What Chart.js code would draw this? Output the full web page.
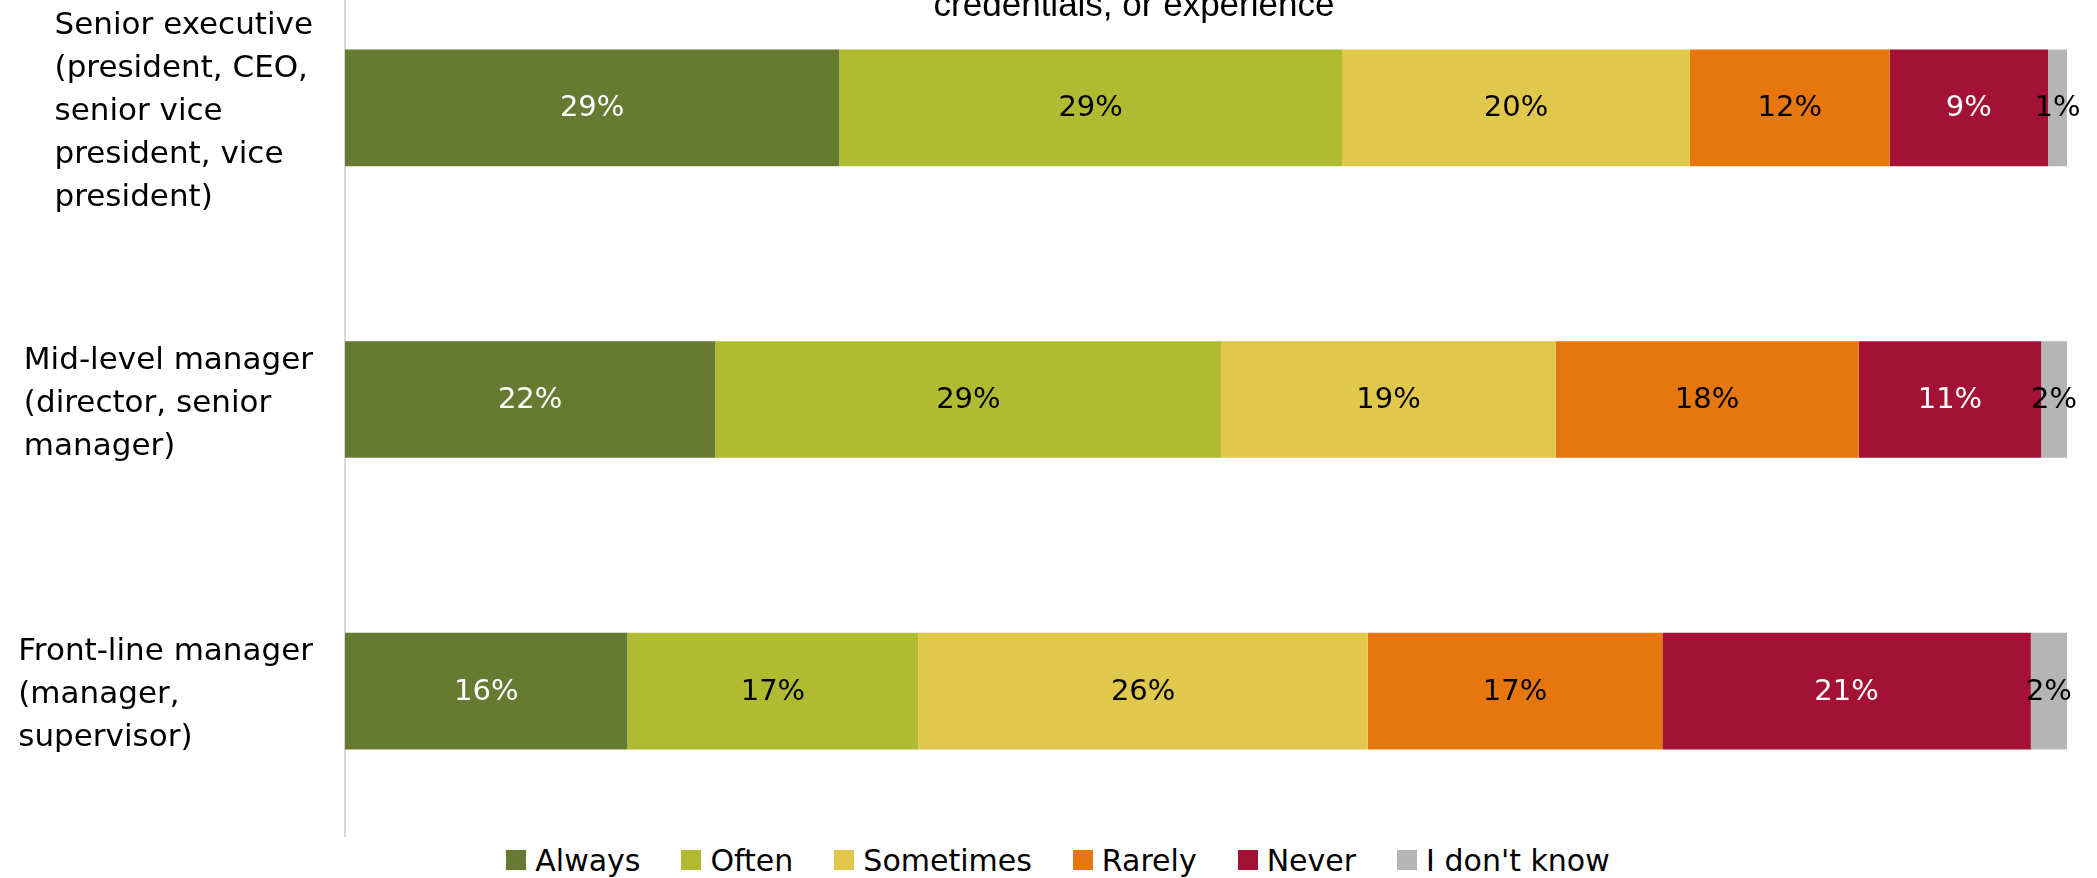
<!DOCTYPE html>
<html>
<head>
<meta charset="utf-8">
<script src="https://cdn.jsdelivr.net/npm/chart.js@4.4.1/dist/chart.umd.min.js"></script>
<style>
    html, body { margin: 0; padding: 0; background: #fff; overflow: hidden; }
    body { width: 2097px; height: 878px; position: relative; }
    #chart { position: absolute; left: 0; top: -38px; }
    #legend {
        position: absolute; left: 0; top: 840px; width: 2116px; height: 40px;
        display: flex; justify-content: center; align-items: center;
        font-family: "DejaVu Sans", sans-serif; font-size: 30px; color: #000;
    }
    .item { display: flex; align-items: center; margin-right: 41px; }
    .item:last-child { margin-right: 0; }
    .swatch { width: 20px; height: 20px; margin-right: 9px; }
</style>
</head>
<body>
<canvas id="chart" width="2097" height="875"></canvas>
<div id="legend"></div>
<script>
const categories = [
    ['Senior executive', '(president, CEO,', 'senior vice', 'president, vice', 'president)'],
    ['Mid-level manager', '(director, senior', 'manager)'],
    ['Front-line manager', '(manager,', 'supervisor)']
];
const seriesNames = ['Always', 'Often', 'Sometimes', 'Rarely', 'Never', "I don't know"];
const seriesColors = ['#667A31', '#B0BB32', '#DFC84B', '#E6760E', '#A31134', '#B5B5B5'];
const labelColors = ['#fff', '#000', '#000', '#000', '#fff', '#000'];

// one array per answer, in category order (senior, mid-level, front-line)
const always = [28.7, 21.5, 16.4];
const often = [29.2, 29.4, 16.9];
const sometimes = [20.2, 19.4, 26.1];
const rarely = [11.6, 17.6, 17.1];
const never = [9.2, 10.6, 21.4];
const dontKnow = [1.1, 1.5, 2.1];

const titleText = 'credentials, or experience';

const seriesValues = [always, often, sometimes, rarely, never, dontKnow];

// category labels are left aligned inside a block that ends near the axis
const categoryLabels = {
    id: 'categoryLabels',
    afterDraw(chart) {
        const ctx = chart.ctx;
        const yScale = chart.scales.y;
        ctx.save();
        ctx.font = '31px "DejaVu Sans", sans-serif';
        ctx.fillStyle = '#000';
        ctx.textAlign = 'left';
        ctx.textBaseline = 'middle';
        categories.forEach((lines, i) => {
            const yc = yScale.getPixelForValue(i);
            const maxW = Math.max(...lines.map(l => ctx.measureText(l).width));
            const x = 313 - maxW;
            lines.forEach((line, j) => {
                ctx.fillText(line, x, yc + (j - (lines.length - 1) / 2) * 43 + 4);
            });
        });
        // title, cut off at the top like the source
        ctx.font = '35px "Liberation Sans", Arial, sans-serif';
        ctx.textAlign = 'center';
        ctx.textBaseline = 'alphabetic';
        ctx.fillText(titleText, 1134, 54);
        ctx.restore();
    }
};

const valueLabels = {
    id: 'valueLabels',
    afterDatasetsDraw(chart) {
        const ctx = chart.ctx;
        ctx.save();
        ctx.font = '29px "DejaVu Sans", sans-serif';
        ctx.textAlign = 'center';
        ctx.textBaseline = 'middle';
        chart.data.datasets.forEach((ds, i) => {
            const meta = chart.getDatasetMeta(i);
            meta.data.forEach((bar, j) => {
                ctx.fillStyle = labelColors[i];
                ctx.fillText(Math.round(ds.data[j]) + '%', (bar.x + bar.base) / 2, bar.y + 1);
            });
        });
        ctx.restore();
    }
};

const ctx = document.getElementById('chart').getContext('2d');
const chart = new Chart(ctx, {
    type: 'bar',
    data: {
        labels: categories,
        datasets: seriesNames.map((name, i) => ({
            label: name,
            data: seriesValues[i],
            backgroundColor: seriesColors[i],
            borderWidth: 0,
            barPercentage: 0.4,
            categoryPercentage: 1
        }))
    },
    options: {
        indexAxis: 'y',
        responsive: false,
        animation: false,
        devicePixelRatio: 1,
        layout: { padding: { left: 0, right: 30, top: 0, bottom: 0 } },
        plugins: {
            legend: { display: false },
            title: { display: false },
            tooltip: { enabled: false }
        },
        scales: {
            x: {
                stacked: true,
                min: 0,
                max: 100,
                display: false
            },
            y: {
                stacked: true,
                grid: { display: false },
                border: { display: true, color: '#D9D9D9', width: 2 },
                ticks: { display: false },
                afterFit: (scale) => { scale.width = 345; }
            }
        }
    },
    plugins: [categoryLabels, valueLabels]
});

// legend built from the same series arrays
const legend = document.getElementById('legend');
seriesNames.forEach((name, i) => {
    const item = document.createElement('div');
    item.className = 'item';
    const sw = document.createElement('div');
    sw.className = 'swatch';
    sw.style.background = seriesColors[i];
    const txt = document.createElement('span');
    txt.textContent = name;
    item.appendChild(sw);
    item.appendChild(txt);
    legend.appendChild(item);
});
</script>
</body>
</html>
